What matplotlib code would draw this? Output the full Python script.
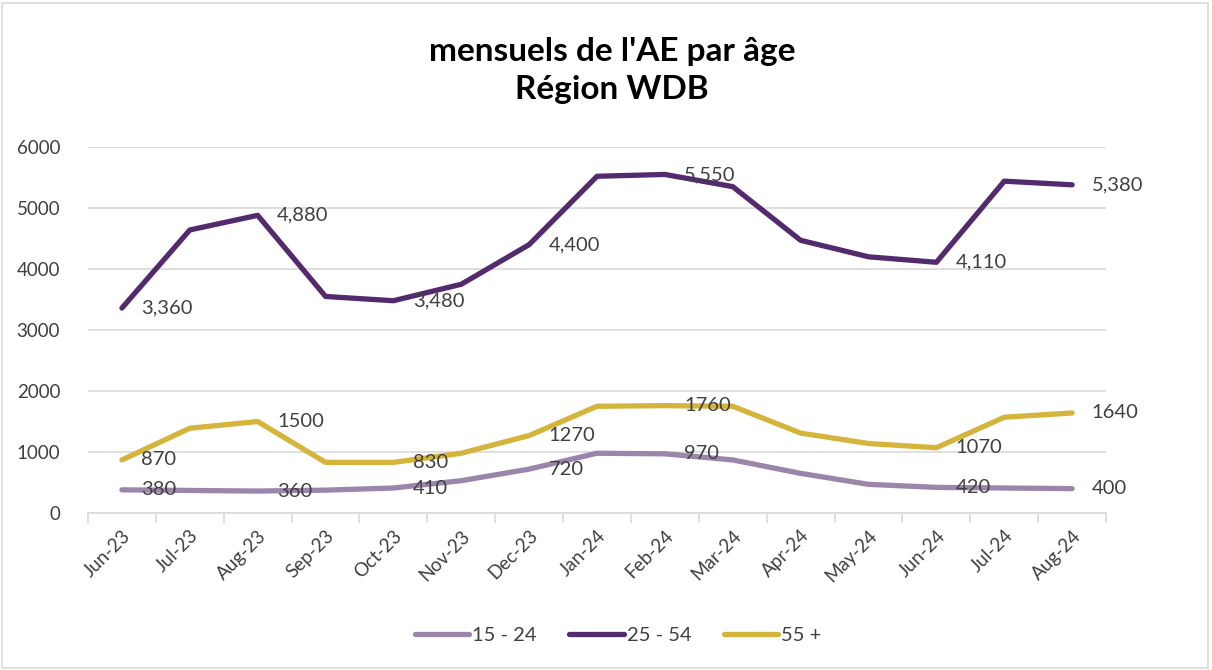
import matplotlib
matplotlib.use("Agg")
import matplotlib.pyplot as plt
from matplotlib.patches import Rectangle

# --- données ---
mois = ["Jun-23", "Jul-23", "Aug-23", "Sep-23", "Oct-23", "Nov-23", "Dec-23",
        "Jan-24", "Feb-24", "Mar-24", "Apr-24", "May-24", "Jun-24", "Jul-24",
        "Aug-24"]
age_15_24 = [380, 370, 360, 375, 410, 530, 720, 980, 970, 870, 650, 470, 420, 410, 400]
age_25_54 = [3360, 4640, 4880, 3550, 3480, 3750, 4400, 5520, 5550, 5350, 4470, 4200,
             4110, 5440, 5380]
age_55_plus = [870, 1390, 1500, 830, 830, 980, 1270, 1750, 1760, 1750, 1310, 1140,
               1070, 1570, 1640]
idx_etiquettes = [0, 2, 4, 6, 8, 12, 14]

C_JEUNE, C_CORE, C_SENIOR = "#9b85aa", "#542a6e", "#d4b43a"
INK, GRID = "#404040", "#d9d9d9"

plt.rcParams["font.family"] = ["Lato", "DejaVu Sans"]

fig = plt.figure(figsize=(12.12, 6.7), dpi=100)
ax = fig.add_axes([0.0726, 0.2343, 0.84, 0.5463])

x = list(range(len(mois)))
series = [(age_15_24, C_JEUNE, "15 - 24", "{:d}"),
          (age_25_54, C_CORE, "25 - 54", "{:,d}"),
          (age_55_plus, C_SENIOR, "55 +", "{:d}")]
for vals, c, nom, fmt in series:
    ax.plot(x, vals, color=c, linewidth=3.8, solid_capstyle="round",
            solid_joinstyle="round", label=nom, zorder=3)
    for i in idx_etiquettes:
        ax.annotate(fmt.format(vals[i]), (x[i], vals[i]), textcoords="offset points",
                    xytext=(14, 0), va="center", ha="left", color=INK, fontsize=14.5,
                    zorder=4)

ax.set_xlim(-0.5, len(mois) - 0.5)
ax.set_ylim(0, 6000)
ax.set_yticks(range(0, 6001, 1000))
ax.grid(axis="y", color=GRID, linewidth=1.2, zorder=0)
ax.set_axisbelow(True)
for s in ["top", "right", "left"]:
    ax.spines[s].set_visible(False)
ax.spines["bottom"].set_color(GRID)
ax.spines["bottom"].set_linewidth(1.2)
ax.tick_params(axis="y", length=0, labelsize=13.5, labelcolor=INK, pad=20)
ax.set_xticks(x)
ax.set_xticklabels(mois, rotation=45, ha="right", rotation_mode="anchor")
ax.tick_params(axis="x", length=0, labelsize=13.5, labelcolor=INK, pad=10)
ax.set_xticks([i - 0.5 for i in range(len(mois) + 1)], minor=True)
ax.tick_params(axis="x", which="minor", length=7, color=GRID, width=1.2)

fig.suptitle("mensuels de l'AE par âge\nRégion WDB", x=0.505, y=0.945,
             fontsize=24, fontweight="bold", color="black", linespacing=1.4)

fig.legend(loc="center", bbox_to_anchor=(0.51, 0.052), ncol=3, frameon=False,
           fontsize=14.5, handlelength=2.7, handletextpad=0.15, columnspacing=1.6,
           labelcolor=INK)

fig.add_artist(Rectangle((0.002, 0.003), 0.995, 0.993, transform=fig.transFigure,
                         fill=False, edgecolor=GRID, linewidth=1.2))

fig.savefig("out.png", dpi=100, facecolor="white")
